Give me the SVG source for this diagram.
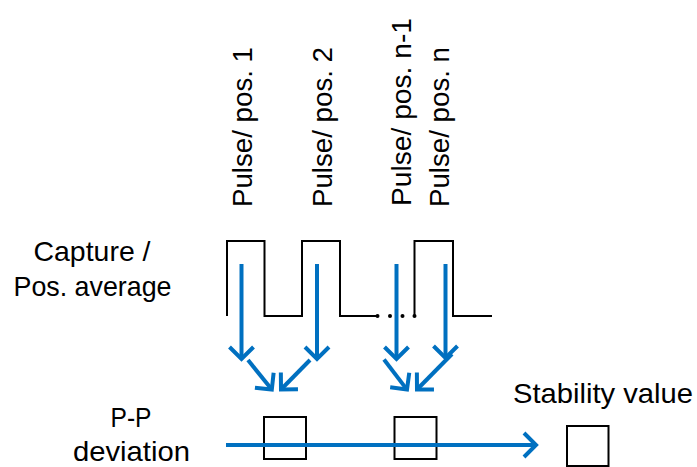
<svg xmlns="http://www.w3.org/2000/svg" width="697" height="467" viewBox="0 0 697 467">
  <style>
    .lbl { font-family: "Liberation Sans", Arial, sans-serif; font-size: 28px; fill: #000; }
    .wave { fill: none; stroke: #000; stroke-width: 2; }
    .box { fill: #fff; stroke: #000; stroke-width: 2; }
    .arr { fill: none; stroke: #0070C0; stroke-width: 4; marker-end: url(#ah); }
  </style>
  <defs>
    <marker id="ah" markerUnits="userSpaceOnUse" markerWidth="30" markerHeight="30" viewBox="-15 -15 30 30" refX="0" refY="0" orient="auto" overflow="visible">
      <path d="M-12,-12 L0,0 L-12,12" fill="none" stroke="#0070C0" stroke-width="4"/>
    </marker>
  </defs>

  <g id="labels-left">
    <text class="lbl" x="92" y="261" text-anchor="middle" textLength="117" lengthAdjust="spacingAndGlyphs">Capture /</text>
    <text class="lbl" x="92.5" y="296" text-anchor="middle" textLength="158" lengthAdjust="spacingAndGlyphs">Pos. average</text>
    <text class="lbl" x="131" y="427" text-anchor="middle" textLength="41" lengthAdjust="spacingAndGlyphs">P-P</text>
    <text class="lbl" x="131.5" y="461" text-anchor="middle" textLength="117" lengthAdjust="spacingAndGlyphs">deviation</text>
  </g>

  <g id="pulse-labels">
    <text class="lbl" transform="translate(251.5,207) rotate(-90)" textLength="160" lengthAdjust="spacingAndGlyphs">Pulse/ pos. 1</text>
    <text class="lbl" transform="translate(331.5,207) rotate(-90)" textLength="160" lengthAdjust="spacingAndGlyphs">Pulse/ pos. 2</text>
    <text class="lbl" transform="translate(411,206) rotate(-90)" textLength="188" lengthAdjust="spacingAndGlyphs">Pulse/ pos. n-1</text>
    <text class="lbl" transform="translate(448.5,207) rotate(-90)" textLength="160" lengthAdjust="spacingAndGlyphs">Pulse/ pos. n</text>
  </g>

  <g id="waveform">
    <path class="wave" d="M227,316 V241 H264.5 V316 H302 V241 H340 V316 H377.5"/>
    <path class="wave" d="M414.5,316 V241 H453 V316 H492"/>
    <circle cx="377.5" cy="316" r="2" fill="#000"/>
    <circle cx="390" cy="316" r="2" fill="#000"/>
    <circle cx="402.5" cy="316" r="2" fill="#000"/>
    <circle cx="414.5" cy="316" r="2" fill="#000"/>
  </g>

  <g id="box-1"><rect class="box" x="264" y="417" width="42" height="42"/></g>
  <g id="box-2"><rect class="box" x="394.5" y="417" width="42" height="42"/></g>
  <g id="box-stability">
    <rect class="box" x="567" y="426" width="41.5" height="40"/>
    <text class="lbl" x="513" y="403" textLength="180" lengthAdjust="spacingAndGlyphs">Stability value</text>
  </g>

  <g id="connectors">
    <line class="arr" x1="241.5" y1="264" x2="241.5" y2="359"/>
    <line class="arr" x1="317" y1="264" x2="317" y2="359"/>
    <line class="arr" x1="396.5" y1="264" x2="396.5" y2="359"/>
    <line class="arr" x1="445.5" y1="264" x2="445.5" y2="358"/>
    <line class="arr" x1="248" y1="360" x2="271.8" y2="389.6"/>
    <line class="arr" x1="310" y1="360" x2="281" y2="389.5"/>
    <line class="arr" x1="384" y1="359.5" x2="407" y2="389.6"/>
    <line class="arr" x1="452" y1="354" x2="417" y2="389.5"/>
    <line class="arr" x1="226" y1="445" x2="536" y2="445"/>
  </g>
</svg>
